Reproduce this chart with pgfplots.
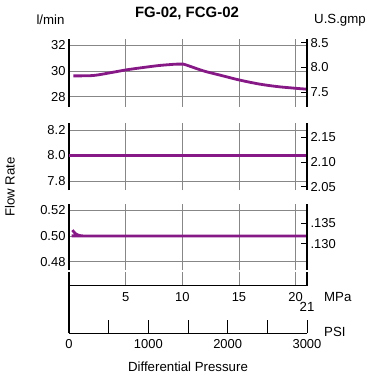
\documentclass[border=0pt]{standalone}
\usepackage{fontspec}
\setmainfont{Liberation Sans}
\usepackage{pgfplots}
\pgfplotsset{compat=1.18}
\definecolor{curve}{RGB}{135,25,135}
\definecolor{gridc}{RGB}{135,135,135}
\pgfplotsset{
 /pgf/number format/assume math mode=true,
 base/.style={scale only axis, width=238bp, xmin=0, xmax=21,
   tick label style={font=\fontsize{13}{15}\selectfont},
   axis line style={-, line width=1.1bp, black},
   clip=false},
 leftpanel/.style={base,
   axis x line*=bottom, x axis line style={draw=none},
   xtick={5,10,15,20}, xticklabels={}, xtick style={draw=none},
   xmajorgrids, ymajorgrids,
   grid style={gridc, line width=0.6bp},
   axis y line*=left, ytick style={draw=none}},
 rightpanel/.style={base, axis x line=none, axis y line*=right,
   ytick style={black, line width=0.6bp}, tick align=inside, major tick length=6bp},
}
\begin{document}
\begin{tikzpicture}
\path[use as bounding box] (0,0) rectangle (374bp,-376bp);
% ---------- top panel ----------
\begin{axis}[leftpanel, height=68bp, at={(69bp,-38.7bp)}, anchor=north west,
  ymin=27.226, ymax=32.487, ytick={28,30,32}, yticklabels={28,30,32}]
\addplot[curve, line width=2.8bp, smooth, tension=0.5] coordinates {
 (0.38,29.61) (2.14,29.64) (3.62,29.85) (5.09,30.08) (6.56,30.26) (8.03,30.42)
 (9.5,30.52) (10.09,30.52) (11.85,30.0) (13.32,29.67) (15.09,29.28)
 (16.85,28.97) (18.62,28.76) (21.0,28.58)};
\end{axis}
\begin{axis}[rightpanel, height=68bp, at={(69bp,-38.7bp)}, anchor=north west,
  ymin=7.210, ymax=8.581, ytick={7.5,8.0,8.5}, yticklabels={7.5,8.0,8.5}]
\addplot[draw=none] coordinates {(0,8) (21,8)};
\end{axis}
% ---------- middle panel ----------
\begin{axis}[leftpanel, height=66.7bp, at={(69bp,-123.3bp)}, anchor=north west,
  ymin=7.729, ymax=8.2525, ytick={7.8,8.0,8.2}, yticklabels={7.8,8.0,8.2}]
\addplot[curve, line width=2.8bp] coordinates {(0,8.0) (21,8.0)};
\end{axis}
\begin{axis}[rightpanel, height=66.7bp, at={(69bp,-123.3bp)}, anchor=north west,
  ymin=2.0433, ymax=2.1783, ytick={2.05,2.10,2.15}, yticklabels={2.05,2.10,2.15}]
\addplot[draw=none] coordinates {(0,2.1) (21,2.1)};
\end{axis}
% ---------- bottom panel ----------
\begin{axis}[leftpanel, height=66bp, at={(69bp,-204bp)}, anchor=north west,
  ymin=0.4736, ymax=0.5247, ytick={0.48,0.50,0.52}, yticklabels={0.48,0.50,0.52}]
\addplot[curve, line width=2.8bp, smooth] coordinates {
 (0.3,0.5045) (0.6,0.5015) (1.0,0.5002) (1.6,0.5000) (21,0.5000)};
\end{axis}
\begin{axis}[rightpanel, height=66bp, at={(69bp,-204bp)}, anchor=north west,
  ymin=0.12355, ymax=0.13973, ytick={0.130,0.135}, yticklabels={.130,.135}]
\addplot[draw=none] coordinates {(0,0.13) (21,0.13)};
\end{axis}
% ---------- PSI axis ----------
\begin{axis}[base, height=61.3bp, at={(69bp,-272bp)}, anchor=north west,
  xmin=0, xmax=3000, ymin=0, ymax=1,
  axis x line*=bottom, axis y line*=left, ymajorticks=false,
  xtick={0,1000,2000,3000}, xticklabels={0,1000,2000,3000},
  extra x ticks={500,1500,2500}, extra x tick labels={},
  tick align=inside, major tick length=13bp,
  xticklabel style={yshift=-3bp},
  xtick style={black, line width=0.6bp},
  extra x tick style={tick style={black, line width=0.6bp}}]
\addplot[draw=none] coordinates {(0,0.5) (3000,0.5)};
\end{axis}
% ---------- MPa axis ----------
\begin{axis}[base, height=13.7bp, at={(69bp,-272bp)}, anchor=north west,
  xmin=0, xmax=21, ymin=0, ymax=1,
  axis x line*=bottom, axis y line*=right, ymajorticks=false,
  xtick={5,10,15,20}, xticklabels={5,10,15,20},
  tick align=inside, major tick length=13.7bp,
  xticklabel style={yshift=-3bp},
  xtick style={gridc, line width=0.6bp}]
\addplot[draw=none] coordinates {(0,0.5) (21,0.5)};
\end{axis}
% ---------- texts ----------
\begin{scope}[every node/.style={font=\fontsize{13.3}{15}\selectfont}]
\node[font=\bfseries\fontsize{15}{17}\selectfont] at (187bp,-13bp) {FG-02, FCG-02};
\node at (50.5bp,-20bp) {l/min};
\node[anchor=west, inner sep=0pt] at (314bp,-20bp) {U.S.gmp};
\node[rotate=90] at (10bp,-187bp) {Flow Rate};
\node[anchor=west, inner sep=0pt] at (324bp,-296.7bp) {MPa};
\node at (307bp,-306.7bp) {21};
\node[anchor=west, inner sep=0pt] at (324bp,-332bp) {PSI};
\node at (188bp,-366.7bp) {Differential Pressure};
\end{scope}
\end{tikzpicture}
\end{document}
